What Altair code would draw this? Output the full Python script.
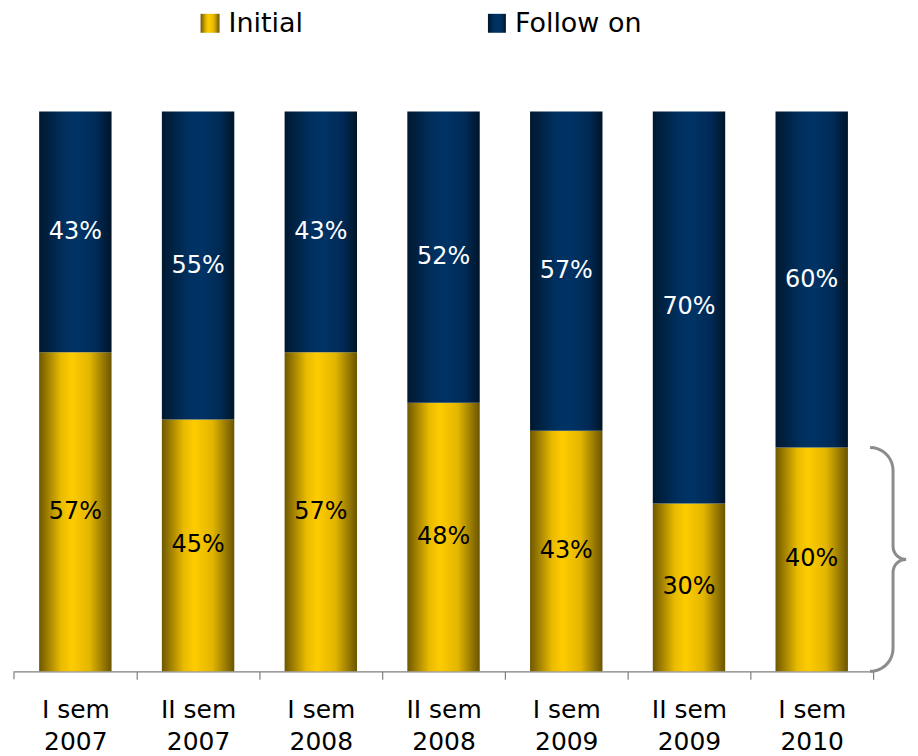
import altair as alt
import pandas as pd
import numpy as np

categories = ["I sem 2007", "II sem 2007", "I sem 2008", "II sem 2008",
              "I sem 2009", "II sem 2009", "I sem 2010"]
initial = [57, 45, 57, 48, 43, 30, 40]
follow_on = [43, 55, 43, 52, 57, 70, 60]
series_names = ["Initial", "Follow on"]

df = pd.DataFrame({"cat": categories, "initial": initial, "follow": follow_on})
df["i_top"] = df["initial"] / 100.0
df["one"] = 1.0
df["zero"] = 0.0
df["i_mid"] = df["i_top"] / 2
df["f_mid"] = df["i_top"] + (1 - df["i_top"]) / 2
df["i_lab"] = df["initial"].astype(str) + "%"
df["f_lab"] = df["follow"].astype(str) + "%"

FONT = "DejaVu Sans"
PW, PH = 861.0, 561.0
STEP = PW / len(categories)

def grad(stops):
    return alt.Gradient(gradient="linear", x1=0, x2=1, y1=0, y2=0,
                        stops=[alt.GradientStop(offset=o, color=c) for o, c in stops])

gold = grad([(0, "#6e5800"), (0.3, "#e8ba00"), (0.45, "#ffcc00"), (0.7, "#e2b500"), (1, "#6a5500")])
navy = grad([(0, "#001830"), (0.35, "#00305f"), (0.55, "#003366"), (0.8, "#002a55"), (1, "#001428")])

xs = alt.Scale(paddingInner=0.41, paddingOuter=0.205)
ys = alt.Scale(domain=[0, 1], nice=False, zero=True)

x_axis = alt.Axis(title=None, labelAngle=0, tickSize=8,
                  tickOffset=STEP / 2, labelOffset=-STEP / 2,
                  domainColor="#7f7f7f", tickColor="#7f7f7f", domainWidth=1.2, tickWidth=1.2,
                  labelFont=FONT, labelFontSize=25, labelColor="#000000",
                  labelPadding=18, labelLineHeight=32, grid=False,
                  labelExpr="[slice(datum.label, 0, length(datum.label) - 5), slice(datum.label, -4)]")

base = alt.Chart(df)

bar_init = base.mark_bar(fill=gold).encode(
    x=alt.X("cat:N", sort=categories, scale=xs, axis=x_axis),
    y=alt.Y("zero:Q", scale=ys, axis=None),
    y2="i_top:Q",
)
bar_follow = base.mark_bar(fill=navy).encode(
    x=alt.X("cat:N", sort=categories, scale=xs, axis=None),
    y=alt.Y("i_top:Q", scale=ys, axis=None),
    y2="one:Q",
)
txt_init = base.mark_text(font=FONT, fontSize=24, color="#000000", baseline="middle").encode(
    x=alt.X("cat:N", sort=categories, scale=xs, axis=None),
    y=alt.Y("i_mid:Q", scale=ys, axis=None),
    text="i_lab:N",
)
txt_follow = base.mark_text(font=FONT, fontSize=24, color="#ffffff", baseline="middle").encode(
    x=alt.X("cat:N", sort=categories, scale=xs, axis=None),
    y=alt.Y("f_mid:Q", scale=ys, axis=None),
    text="f_lab:N",
)

one = pd.DataFrame({"a": [0]})
# first (left-most) axis tick
left_tick = alt.Chart(one).mark_rule(color="#7f7f7f", strokeWidth=1.2).encode(
    x=alt.value(0), y=alt.value(PH), y2=alt.value(PH + 8))

# curly brace spanning the last bar's Initial share
top = initial[-1] / 100.0 * PH
mid = top / 2
pts = []
r1, r2 = 23, 13
xe, xv, xt = 858, 881, 894
for t in np.linspace(np.pi / 2, 0, 10):
    pts.append((xe + r1 * np.cos(t), top - r1 + r1 * np.sin(t)))
for t in np.linspace(np.pi, 1.5 * np.pi, 8):
    pts.append((xt + r2 * np.cos(t), mid + r2 + r2 * np.sin(t)))
for t in np.linspace(0.5 * np.pi, np.pi, 8):
    pts.append((xt + r2 * np.cos(t), mid - r2 + r2 * np.sin(t)))
for t in np.linspace(0, -0.5 * np.pi, 10):
    pts.append((xe + r1 * np.cos(t), r1 + r1 * np.sin(t)))
brace_df = pd.DataFrame({"bx": [p[0] for p in pts], "by": [p[1] / PH for p in pts],
                         "o": list(range(len(pts)))})
brace = alt.Chart(brace_df).mark_line(color="#8c8c8c", strokeWidth=3).encode(
    x=alt.X("bx:Q", scale=None, axis=None),
    y=alt.Y("by:Q", scale=ys, axis=None),
    order="o:Q",
)

# legend
leg_sw1 = alt.Chart(one).mark_rect(fill=gold).encode(
    x=alt.value(187), x2=alt.value(206), y=alt.value(-98), y2=alt.value(-79))
leg_sw2 = alt.Chart(one).mark_rect(fill=navy).encode(
    x=alt.value(475), x2=alt.value(493), y=alt.value(-98), y2=alt.value(-79))
leg_t1 = alt.Chart(one).mark_text(font=FONT, fontSize=27, align="left", baseline="middle",
                                   color="#000000", text=series_names[0]).encode(
    x=alt.value(215), y=alt.value(-88))
leg_t2 = alt.Chart(one).mark_text(font=FONT, fontSize=27, align="left", baseline="middle",
                                   color="#000000", text=series_names[1]).encode(
    x=alt.value(502), y=alt.value(-88))

chart = alt.layer(bar_init, bar_follow, txt_init, txt_follow, left_tick, brace,
                  leg_sw1, leg_sw2, leg_t1, leg_t2).resolve_scale(x="independent").properties(
    width=PW, height=PH,
    autosize=alt.AutoSizeParams(type="none"),
    padding={"left": 6, "top": 103, "right": 37, "bottom": 84},
).configure_view(stroke=None)

chart.save("out.html", embed_options={"renderer": "svg", "actions": False})
